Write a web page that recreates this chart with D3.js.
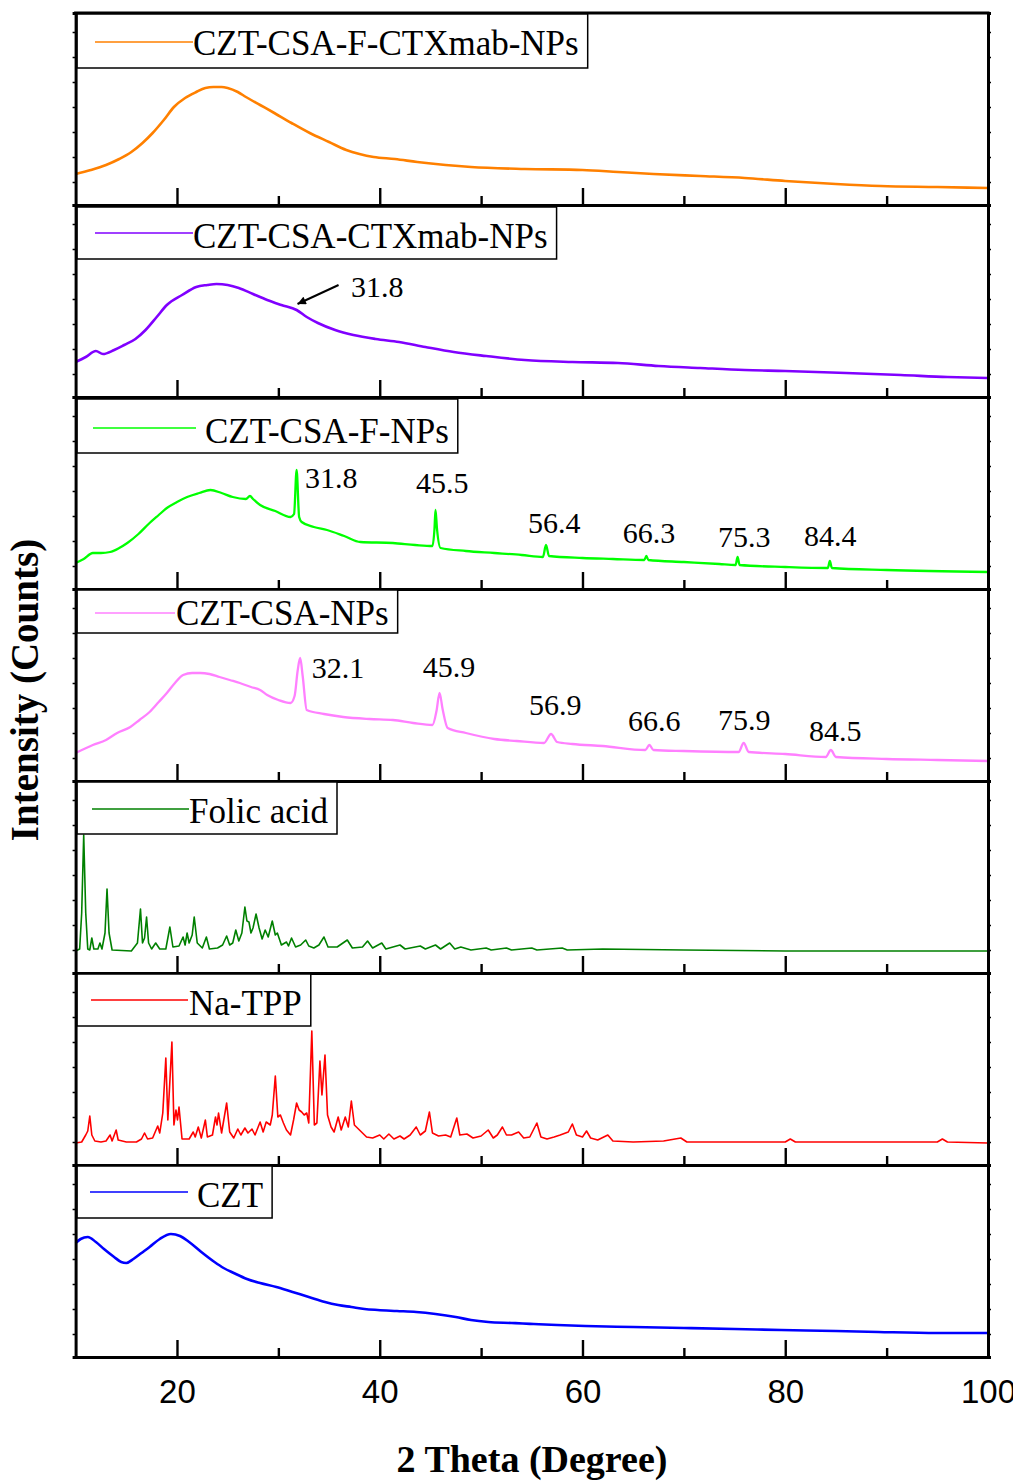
<!DOCTYPE html>
<html>
<head>
<meta charset="utf-8">
<script src="https://cdn.jsdelivr.net/npm/d3@7/dist/d3.min.js"></script>
<style>
  html, body { margin: 0; padding: 0; background: #fff; }
  svg { display: block; }
</style>
</head>
<body>
<svg id="chart" width="1013" height="1481"></svg>
<script>
// ---------------- DATA ----------------
const xMajorTicks = [20, 40, 60, 80, 100];
const xMinorTicks = [30, 50, 70, 90];
const yTicks = [23, 48, 73, 98, 123, 148, 173];
const xTitle = "2 Theta (Degree)";
const yTitle = "Intensity (Counts)";

const seriesNames = ["CZT-CSA-F-CTXmab-NPs", "CZT-CSA-CTXmab-NPs", "CZT-CSA-F-NPs", "CZT-CSA-NPs", "Folic acid", "Na-TPP", "CZT"];

// [2theta (deg), intensity (a.u.)]
const cztCsaFCtxmab = [[10,31],[11.5,35],[13,40],[14.3,46],[15.5,53],[16.6,62],[17.6,72],[18.7,85],[19.7,98],[20.8,107],[21.9,113],[22.8,117],[23.6,118],[24.4,118],[25,117],[26,113],[26.8,108],[28.2,100],[29.6,92],[31.3,82],[33.1,72],[35,63],[36.7,55],[38,51],[39.4,48],[41.5,46],[43.7,43],[46.5,40],[49,38],[54.3,36],[60,35],[63.5,33],[67,31],[71.6,29],[76,27],[80,24],[85,21],[89.4,19],[95,18],[100,17]];

const cztCsaCtxmab = [[10,35],[11,40],[12,46],[12.7,43],[13.8,47],[14.8,52],[15.9,58],[16.9,67],[18,80],[19,92],[20.5,102],[21.9,110],[23,112],[23.9,113],[25,112],[26.1,109],[27.5,103],[28.9,97],[30.3,92],[31.8,87],[32.8,80],[33.9,74],[35.6,67],[37.4,62],[39.6,58],[41.9,55],[44.5,50],[47.3,45],[50.5,41],[54.3,37],[59,35],[63.5,34],[67.5,31],[71.6,29],[76,27],[80,26],[86,24],[91.4,22],[96,20],[100,19]];

const cztCsaF = [[10,26],[10.8,30],[11.7,36],[12.5,36],[13.4,37],[14.3,41],[15.1,46],[16.2,55],[17.3,66],[18.2,74],[19,81],[20,87],[21,92],[22.2,96],[23.3,99],[24.4,96],[25.5,92],[26.8,90],[27.2,93],[27.5,90],[28.2,84],[29.7,78],[31.2,72],[31.55,75],[31.8,119],[32.05,72],[32.3,67],[33.5,62],[34.8,59],[36.5,53],[38.1,47],[41.3,46],[43.5,44],[45.2,43],[45.4,60],[45.5,79],[45.65,60],[46,41],[48.5,38],[51.3,36],[54,34],[56.1,32],[56.4,44],[56.7,33],[60,31],[63,30],[66.1,29],[66.3,33],[66.5,29],[70,27],[73.5,25],[75.1,24],[75.3,32],[75.5,24],[80,22],[84.2,21],[84.4,28],[84.6,21],[90,19],[100,17]];

const cztCsa = [[10,28],[11.7,36],[13,41],[14.1,48],[15.4,54],[16.3,61],[17.3,69],[18.2,79],[19,88],[19.8,98],[20.6,106],[21.5,108],[22.3,108],[23.2,107],[24.2,104],[25.2,101],[26.2,98],[27.3,94],[28.2,91],[28.9,86],[30,81],[31.2,78],[31.6,85],[31.9,110],[32.15,123],[32.4,105],[32.8,71],[34.5,67],[36.4,64],[39,62],[41.3,61],[43.3,58],[45.2,56],[45.6,70],[45.9,88],[46.2,72],[46.7,53],[48.5,48],[51.3,42],[53.5,40],[56.2,38],[56.9,47],[57.5,39],[59,37],[62,35],[66.2,31],[66.6,36],[67,31],[70,30],[75.4,29],[75.9,38],[76.4,29],[80,27],[84,24],[84.5,31],[85,24],[90,22],[95,21],[100,20]];

const folicAcid = [[10,22],[10.4,24],[10.6,60],[10.8,138],[11.0,60],[11.2,24],[11.4,23],[11.6,35],[11.8,24],[12.2,24],[12.4,30],[12.6,24],[12.9,40],[13.1,84],[13.3,40],[13.6,23],[15.5,22],[16.1,30],[16.4,64],[16.6,30],[16.8,35],[17.0,56],[17.2,30],[17.5,24],[17.9,30],[18.3,24],[18.9,24],[19.3,46],[19.6,26],[20.2,27],[20.6,36],[20.8,28],[21.0,40],[21.2,30],[21.5,38],[21.7,56],[22.0,30],[22.5,25],[22.9,36],[23.2,24],[24.0,25],[24.5,28],[24.9,37],[25.2,28],[25.5,30],[25.8,43],[26.1,32],[26.4,40],[26.7,66],[26.9,52],[27.1,51],[27.3,40],[27.5,45],[27.8,59],[28.1,45],[28.4,34],[28.7,43],[29.0,36],[29.4,52],[29.7,38],[29.9,40],[30.3,28],[30.8,31],[31.0,27],[31.3,35],[31.7,26],[32.2,28],[32.7,33],[33.0,27],[33.5,25],[34.0,28],[34.5,36],[34.9,26],[35.8,26],[36.8,33],[37.3,25],[38.3,26],[38.8,32],[39.3,25],[40.2,30],[40.6,24],[42.0,28],[42.5,24],[44,27],[44.5,24],[45.5,28],[46,24],[46.9,30],[47.4,24],[48,26],[49,23],[50.5,25],[51,23],[52.5,25],[53,23],[55,25],[55.5,23],[58,25],[58.5,23],[62,24],[70,23],[80,22],[90,22],[100,22]];

const naTpp = [[10,22],[10.6,23],[11.0,30],[11.2,34],[11.4,49],[11.6,30],[11.9,24],[12.5,23],[13.0,24],[13.4,30],[13.6,24],[14.0,35],[14.2,25],[15.0,23],[16.0,23],[16.5,26],[16.8,32],[17.1,26],[17.6,27],[18.1,39],[18.3,32],[18.6,52],[18.9,107],[19.1,45],[19.5,123],[19.7,40],[19.9,55],[20.05,45],[20.2,58],[20.5,26],[21.2,26],[21.6,33],[21.8,28],[22.1,38],[22.4,27],[22.8,45],[23.0,28],[23.5,30],[23.8,48],[23.95,40],[24.1,52],[24.4,32],[24.9,62],[25.2,33],[25.6,27],[26.0,36],[26.3,30],[26.7,37],[27.0,32],[27.4,36],[27.7,30],[28.2,43],[28.5,33],[28.8,43],[29.2,40],[29.4,50],[29.7,89],[29.95,48],[30.2,50],[30.5,42],[30.8,35],[31.2,30],[31.5,45],[31.8,62],[32.05,55],[32.3,53],[32.55,50],[32.8,52],[33.0,42],[33.3,134],[33.55,40],[33.8,42],[34.1,104],[34.3,70],[34.6,110],[34.85,50],[35.2,38],[35.5,33],[35.9,48],[36.2,35],[36.6,48],[36.9,38],[37.2,64],[37.5,40],[38.2,33],[38.7,28],[39.3,27],[40.0,30],[40.4,26],[40.9,31],[41.4,26],[42.0,29],[42.4,26],[43.0,30],[43.6,38],[44.0,30],[44.5,34],[44.9,53],[45.2,32],[45.8,29],[46.5,30],[47.0,28],[47.6,47],[47.9,30],[48.6,31],[49.2,27],[50.0,29],[50.7,35],[51.2,27],[51.6,30],[52.1,38],[52.5,30],[53.0,30],[53.7,33],[54.2,27],[54.8,28],[55.5,42],[55.9,28],[56.5,26],[57.2,28],[57.8,30],[58.6,33],[59.0,41],[59.4,30],[60.0,28],[60.4,34],[60.8,27],[61.5,25],[62.5,30],[63.0,24],[65,23],[68,24],[69.7,27],[70.3,23],[74,23],[80,23],[80.5,26],[81,23],[86,23],[95,23],[95.5,26],[96,23],[100,22]];

const czt = [[10,114],[10.5,118],[11.2,120],[12,115],[12.8,108],[13.8,100],[14.5,95],[15,94],[15.7,98],[16.5,104],[17.3,110],[18.3,118],[19.4,123],[20.3,121],[21.2,115],[22.4,105],[23.7,95],[24.6,89],[25.6,84],[26.9,78],[28.2,74],[29.8,70],[31.4,65],[33,60],[34.6,55],[35.9,52],[37.2,50],[38.5,48],[39.8,47],[41.7,46],[43.6,45],[45.5,43],[47.5,40],[49,37],[50.7,35],[53,34],[55.2,33],[57.5,32],[60.3,31],[65,30],[70,29],[75,28],[79.6,27],[85,26],[89.2,25],[95,24],[100,24]];

const seriesData = [cztCsaFCtxmab, cztCsaCtxmab, cztCsaF, cztCsa, folicAcid, naTpp, czt];

// peak labels: [panel index, label, 2theta where text starts, intensity of baseline]
const peakLabels = [
  [1, "31.8", 37.17, 100],
  [2, "31.8", 32.63, 101], [2, "45.5", 43.58, 96], [2, "56.4", 54.63, 56],
  [2, "66.3", 63.97, 46], [2, "75.3", 73.37, 42], [2, "84.4", 81.86, 43],
  [3, "32.1", 33.29, 103], [3, "45.9", 44.24, 104], [3, "56.9", 54.73, 66],
  [3, "66.6", 64.5, 50], [3, "75.9", 73.37, 51], [3, "84.5", 82.35, 40]
];
// arrow in panel 1: from [2theta, I] to [2theta, I]
const arrowFrom = [35.94, 112];
const arrowTo = [31.89, 93];

// ---------------- STYLE / LAYOUT ----------------
const colors = ["#FF8000", "#8000FF", "#00FF00", "#FF80FF", "#008000", "#FF0000", "#0000FF"];
const lineWidths = [2.6, 2.6, 2.3, 2.3, 1.6, 1.6, 2.6];
const smooth = [true, true, true, true, false, false, true];
// legend layout per panel (relative to panel top)
const legendLayout = [
  {boxTop: 1, boxBot: 55, l1: 95, l2: 193, ly: 29, tx: 193, ty: 42},
  {boxTop: 2, boxBot: 54, l1: 95, l2: 193, ly: 28, tx: 193, ty: 43},
  {boxTop: 2, boxBot: 56, l1: 93, l2: 196, ly: 31, tx: 205, ty: 46},
  {boxTop: 1, boxBot: 44, l1: 95, l2: 175, ly: 24, tx: 176, ty: 36},
  {boxTop: 1, boxBot: 53, l1: 92, l2: 189, ly: 28, tx: 189, ty: 42},
  {boxTop: 1, boxBot: 53, l1: 91, l2: 188, ly: 27, tx: 189, ty: 42},
  {boxTop: 1, boxBot: 53, l1: 90, l2: 188, ly: 27, tx: 197, ty: 42}
];

const left = 75.6, right = 988, top0 = 13, panelH = 192;
const svg = d3.select("#chart");
const x = d3.scaleLinear().domain([10, 100]).range([left, right]);

const defs = svg.append("defs");
defs.append("marker").attr("id", "arrowhead")
  .attr("viewBox", "0 0 10 10").attr("refX", 10).attr("refY", 5)
  .attr("markerWidth", 5).attr("markerHeight", 4.2).attr("orient", "auto")
  .attr("markerUnits", "strokeWidth")
  .append("path").attr("d", "M0,0 L10,5 L0,10 Z").attr("fill", "#000");

// top border
svg.append("line").attr("x1", left - 1.5).attr("x2", right + 1.5)
  .attr("y1", top0).attr("y2", top0).attr("stroke", "#000").attr("stroke-width", 3);

seriesData.forEach((data, i) => {
  const pTop = top0 + i * panelH;
  const pBot = pTop + panelH;
  const y = d3.scaleLinear().domain([0, panelH]).range([pBot, pTop]);
  const g = svg.append("g");

  // curve
  g.append("path").datum(data)
    .attr("fill", "none").attr("stroke", colors[i]).attr("stroke-width", lineWidths[i])
    .attr("stroke-linejoin", "round")
    .attr("d", d3.line().curve(smooth[i] ? d3.curveMonotoneX : d3.curveLinear)
      .x(d => x(d[0])).y(d => y(d[1])));

  // left & right axes with small outward ticks
  const la = g.append("g").attr("transform", `translate(${left},0)`)
    .call(d3.axisLeft(y).tickValues(yTicks).tickSize(3).tickFormat(""));
  const ra = g.append("g").attr("transform", `translate(${right},0)`)
    .call(d3.axisRight(y).tickValues(yTicks).tickSize(3).tickFormat(""));
  [la, ra].forEach(a => {
    a.select(".domain").attr("stroke-width", 3);
    a.selectAll(".tick line").attr("stroke-width", 1.5);
  });

  // bottom axis: major and minor ticks, pointing inward
  const isLast = i === seriesData.length - 1;
  const maj = g.append("g").attr("transform", `translate(0,${pBot})`)
    .call(d3.axisBottom(x).tickValues(xMajorTicks).tickSizeInner(-17).tickSizeOuter(0)
      .tickPadding(23).tickFormat(isLast ? d3.format("d") : () => ""));
  maj.select(".domain").attr("stroke-width", 3.2);
  maj.selectAll(".tick line").attr("stroke-width", 2.4);
  maj.selectAll(".tick text").attr("font-family", "'Liberation Sans', Arial, sans-serif")
    .attr("font-size", 33).attr("fill", "#000");
  const mnr = g.append("g").attr("transform", `translate(0,${pBot})`)
    .call(d3.axisBottom(x).tickValues(xMinorTicks).tickSizeInner(-9).tickSizeOuter(0).tickFormat(""));
  mnr.select(".domain").remove();
  mnr.selectAll(".tick line").attr("stroke-width", 2.4);

  // legend
  const L = legendLayout[i];
  const lg = g.append("g");
  const rect = lg.append("rect").attr("x", left + 1.5).attr("y", pTop + L.boxTop)
    .attr("height", L.boxBot - L.boxTop).attr("fill", "#fff")
    .attr("stroke", "#000").attr("stroke-width", 1.5);
  lg.append("line").attr("x1", L.l1).attr("x2", L.l2).attr("y1", pTop + L.ly).attr("y2", pTop + L.ly)
    .attr("stroke", colors[i]).attr("stroke-width", 1.6);
  const t = lg.append("text").attr("x", L.tx).attr("y", pTop + L.ty)
    .attr("font-family", "'Liberation Serif', 'Times New Roman', serif")
    .attr("font-size", 35).attr("fill", "#000").text(seriesNames[i]);
  const tw = t.node().getComputedTextLength();
  rect.attr("width", L.tx + tw + 9 - (left + 1.5));

  // peak labels
  peakLabels.filter(p => p[0] === i).forEach(p => {
    g.append("text").attr("x", x(p[2])).attr("y", y(p[3]))
      .attr("font-family", "'Liberation Serif', 'Times New Roman', serif")
      .attr("font-size", 30).attr("fill", "#000").text(p[1]);
  });

  if (i === 1) {
    g.append("line")
      .attr("x1", x(arrowFrom[0])).attr("y1", y(arrowFrom[1]))
      .attr("x2", x(arrowTo[0])).attr("y2", y(arrowTo[1]))
      .attr("stroke", "#000").attr("stroke-width", 2)
      .attr("marker-end", "url(#arrowhead)");
  }
});

// axis titles
svg.append("text").attr("x", 532).attr("y", 1472).attr("text-anchor", "middle")
  .attr("font-family", "'Liberation Serif', 'Times New Roman', serif")
  .attr("font-weight", "bold").attr("font-size", 38).attr("fill", "#000").text(xTitle);
svg.append("text").attr("transform", "translate(38,690) rotate(-90)").attr("text-anchor", "middle")
  .attr("font-family", "'Liberation Serif', 'Times New Roman', serif")
  .attr("font-weight", "bold").attr("font-size", 39).attr("fill", "#000").text(yTitle);
</script>
</body>
</html>
